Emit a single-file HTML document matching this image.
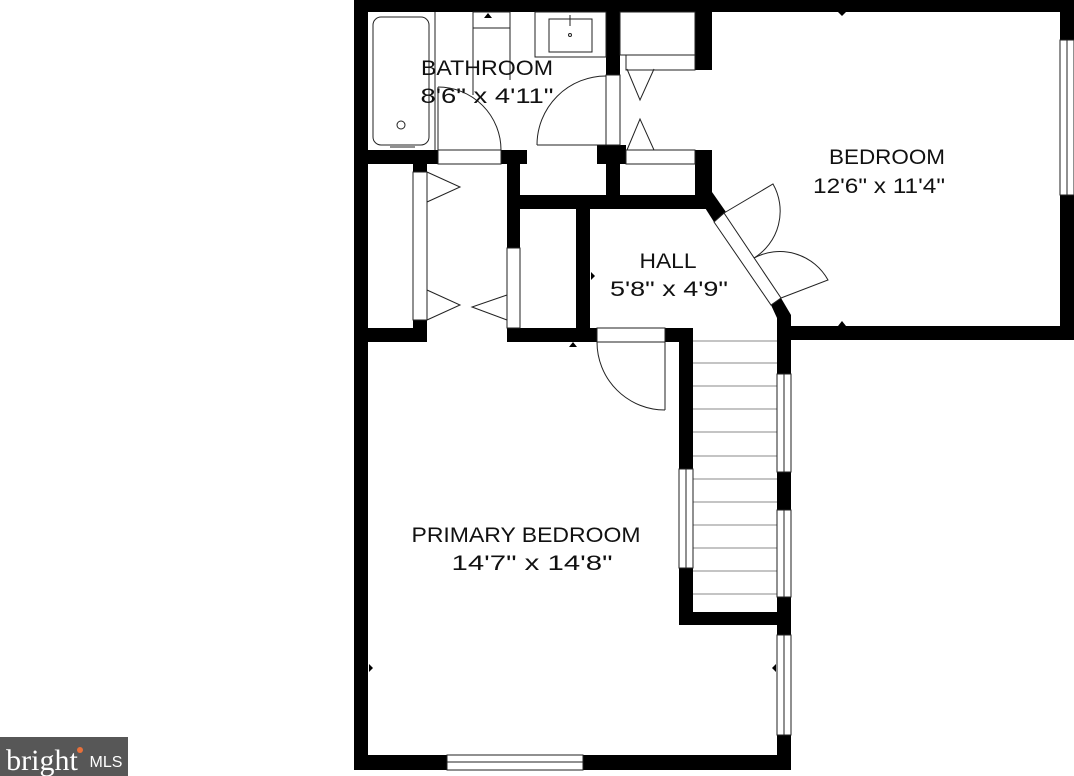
<!DOCTYPE html>
<html><head><style>
html,body{margin:0;padding:0;background:#fff;width:1074px;height:776px;overflow:hidden}
svg{display:block}
text{font-family:"Liberation Sans","DejaVu Sans",sans-serif;font-size:21px;fill:#111;text-anchor:middle}
</style></head><body>
<svg width="1074" height="776" viewBox="0 0 1074 776" xmlns="http://www.w3.org/2000/svg">
<g fill="#000">
<rect x="354" y="0" width="720" height="12"/>
<rect x="354" y="0" width="14" height="770"/>
<rect x="1060" y="0" width="14" height="40"/>
<rect x="1060" y="195" width="14" height="145"/>
<rect x="780" y="326" width="294" height="14"/>
<rect x="354" y="755" width="93" height="15"/>
<rect x="583" y="755" width="208" height="15"/>
<rect x="354" y="150" width="84" height="14"/>
<rect x="501" y="150" width="26" height="14"/>
<rect x="413" y="150" width="14" height="22"/>
<rect x="413" y="320" width="14" height="22"/>
<rect x="354" y="328" width="73" height="14"/>
<rect x="507" y="150" width="13" height="98"/>
<rect x="507" y="328" width="90" height="14"/>
<rect x="507" y="195" width="205" height="14"/>
<rect x="606" y="0" width="14" height="75"/>
<rect x="597" y="145" width="29" height="19"/>
<rect x="606" y="145" width="14" height="60"/>
<rect x="695" y="0" width="17" height="70"/>
<rect x="695" y="150" width="17" height="59"/>
<rect x="576" y="209" width="14" height="133"/>
<rect x="665" y="328" width="28" height="14"/>
<rect x="679" y="328" width="14" height="141"/>
<rect x="679" y="568" width="14" height="57"/>
<rect x="679" y="612" width="112" height="13"/>
<rect x="777" y="315" width="14" height="59"/>
<rect x="777" y="472" width="14" height="38"/>
<rect x="777" y="597" width="14" height="38"/>
<rect x="777" y="735" width="14" height="35"/>
<polygon points="695,192 712,192 726,212 714,222"/>
<polygon points="771,305 781,298 791,315 791,340 777,340 777,318"/>
</g>
<g fill="none" stroke="#222" stroke-width="1">
<rect x="373" y="17" width="56" height="128" rx="8"/>
<line x1="435" y1="12" x2="435" y2="150"/>
<circle cx="401" cy="125" r="4"/>
<line x1="390" y1="147" x2="415" y2="147"/>
<rect x="473" y="12" width="37" height="16"/>
<line x1="473" y1="28" x2="473" y2="95"/><line x1="510" y1="28" x2="510" y2="80"/>
<rect x="535" y="12" width="71" height="45"/>
<rect x="549" y="19" width="43" height="33"/>
<circle cx="570" cy="35" r="1.5"/>
<line x1="570" y1="15" x2="570" y2="26"/>
<rect x="438" y="150" width="63" height="14"/>
<path d="M438 87 A63 63 0 0 1 501 150"/>
<line x1="438" y1="150" x2="438" y2="87"/>
<line x1="537" y1="145" x2="606" y2="145"/>
<path d="M537 145 A69 69 0 0 1 606 76"/>
<rect x="606" y="75" width="14" height="70"/>
<rect x="620" y="12" width="75" height="43"/>
<rect x="626" y="55" width="69" height="15"/>
<rect x="626" y="150" width="69" height="14"/>
<path d="M627 69 L640 100 L654 69"/>
<path d="M627 150 L640 119 L654 150"/>
<rect x="413" y="172" width="14" height="148"/>
<path d="M427 172 L460 187 L427 202"/>
<path d="M427 290 L460 305 L427 320"/>
<path d="M507 295 L472 307 L507 320"/>
<rect x="507" y="248" width="13" height="80"/>
<rect x="597" y="328" width="68" height="14"/>
<line x1="665" y1="342" x2="665" y2="410"/>
<path d="M597 342 A68 68 0 0 0 665 410"/>
<polygon points="714,222 724,213 781,298 771,305"/>
<path d="M724 213 L773 184 A55 55 0 0 1 754 258"/>
<path d="M781 298 L828 280 A55 55 0 0 0 754 258"/>
<rect x="1060" y="40" width="14" height="155"/><line x1="1067" y1="40" x2="1067" y2="195"/>
<g stroke="#888">
<line x1="693" y1="341" x2="777" y2="341"/>
<line x1="693" y1="363" x2="777" y2="363"/>
<line x1="693" y1="386" x2="777" y2="386"/>
<line x1="693" y1="409" x2="777" y2="409"/>
<line x1="693" y1="432" x2="777" y2="432"/>
<line x1="693" y1="456" x2="777" y2="456"/>
<line x1="693" y1="479" x2="777" y2="479"/>
<line x1="693" y1="502" x2="777" y2="502"/>
<line x1="693" y1="525" x2="777" y2="525"/>
<line x1="693" y1="548" x2="777" y2="548"/>
<line x1="693" y1="571" x2="777" y2="571"/>
<line x1="693" y1="594" x2="777" y2="594"/>
</g>
<rect x="679" y="469" width="14" height="99"/><line x1="686" y1="469" x2="686" y2="568"/>
<rect x="777" y="374" width="14" height="98"/><line x1="784" y1="374" x2="784" y2="472"/>
<rect x="777" y="510" width="14" height="87"/><line x1="784" y1="510" x2="784" y2="597"/>
<rect x="777" y="635" width="14" height="100"/><line x1="784" y1="635" x2="784" y2="735"/>
<rect x="447" y="755" width="136" height="15"/><line x1="447" y1="762" x2="583" y2="762"/>
</g>
<g fill="#000">
<polygon points="369,664 373,668 369,672"/>
<polygon points="776,664 772,668 776,672"/>
<polygon points="569,347 573,342 577,347"/>
<polygon points="838,12 842,16 846,12"/>
<polygon points="838,326 842,321 846,326"/>
<polygon points="484,18 488,13 492,18"/>
<polygon points="591,280 595,276 591,272"/>
</g>
<text x="487" y="75" textLength="132" lengthAdjust="spacingAndGlyphs">BATHROOM</text>
<text x="487" y="103" textLength="133" lengthAdjust="spacingAndGlyphs">8'6" x 4'11"</text>
<text x="887" y="164" textLength="116" lengthAdjust="spacingAndGlyphs">BEDROOM</text>
<text x="879" y="193" textLength="132" lengthAdjust="spacingAndGlyphs">12'6" x 11'4"</text>
<text x="668" y="268" textLength="57" lengthAdjust="spacingAndGlyphs">HALL</text>
<text x="669" y="296" textLength="118" lengthAdjust="spacingAndGlyphs">5'8" x 4'9"</text>
<text x="526" y="542" textLength="229" lengthAdjust="spacingAndGlyphs">PRIMARY BEDROOM</text>
<text x="532" y="570" textLength="161" lengthAdjust="spacingAndGlyphs">14'7" x 14'8"</text>
<rect x="0" y="737" width="128" height="39" fill="#575757"/>
<text x="42" y="770" style="font-family:'Liberation Serif',serif;font-size:30px;fill:#fff">bright</text>
<circle cx="80" cy="750" r="3" fill="#e8703a"/>
<text x="106" y="767" style="font-size:16px;fill:#fff">MLS</text>
</svg>
</body></html>
